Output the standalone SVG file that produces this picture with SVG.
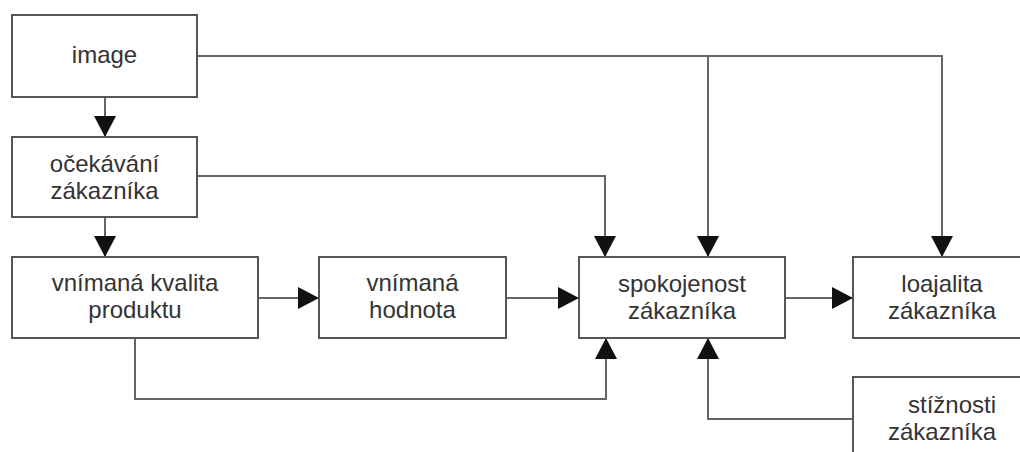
<svg xmlns="http://www.w3.org/2000/svg" width="1020" height="452" viewBox="0 0 1020 452">
<style>
.box{fill:#fff;stroke:#555;stroke-width:2}
.lbl{font-family:"Liberation Sans",Arial,sans-serif;font-size:24px;fill:#333;text-anchor:middle}
.con{fill:none;stroke:#666;stroke-width:2}
</style>
<defs>
<marker id="ah" markerUnits="userSpaceOnUse" markerWidth="22" markerHeight="22" refX="21" refY="11" orient="auto">
<path d="M0,0 L21,11 L0,22 z" fill="#111"/>
</marker>
</defs>
<rect width="1020" height="452" fill="#fff"/>
<g id="connectors">
<path class="con" d="M105,97 V137" marker-end="url(#ah)"/>
<path class="con" d="M105,217 V257" marker-end="url(#ah)"/>
<path class="con" d="M197,56 H942 V257" marker-end="url(#ah)"/>
<path class="con" d="M708,56 V257" marker-end="url(#ah)"/>
<path class="con" d="M197,176 H605 V257" marker-end="url(#ah)"/>
<path class="con" d="M258,298 H319" marker-end="url(#ah)"/>
<path class="con" d="M506,298 H579" marker-end="url(#ah)"/>
<path class="con" d="M785,298 H853" marker-end="url(#ah)"/>
<path class="con" d="M135,338 V399 H606 V338" marker-end="url(#ah)"/>
<path class="con" d="M853,419 H708 V338" marker-end="url(#ah)"/>
</g>
<g id="image">
<rect class="box" x="12" y="15" width="185" height="82"/>
<text class="lbl" x="104.5" y="63">image</text>
</g>
<g id="ocekavani">
<rect class="box" x="12" y="137" width="185" height="80"/>
<text class="lbl" x="104.5" y="172">očekávání</text>
<text class="lbl" x="104.5" y="199">zákazníka</text>
</g>
<g id="kvalita">
<rect class="box" x="12" y="257" width="246" height="81"/>
<text class="lbl" x="135" y="291">vnímaná kvalita</text>
<text class="lbl" x="135" y="318">produktu</text>
</g>
<g id="hodnota">
<rect class="box" x="319" y="257" width="187" height="81"/>
<text class="lbl" x="412.5" y="291">vnímaná</text>
<text class="lbl" x="412.5" y="318">hodnota</text>
</g>
<g id="spokojenost">
<rect class="box" x="579" y="257" width="206" height="81"/>
<text class="lbl" x="682" y="292">spokojenost</text>
<text class="lbl" x="682" y="319">zákazníka</text>
</g>
<g id="loajalita">
<rect class="box" x="853" y="257" width="180" height="81"/>
<text class="lbl" x="942" y="292">loajalita</text>
<text class="lbl" x="942" y="319">zákazníka</text>
</g>
<g id="stiznosti">
<rect class="box" x="853" y="377" width="180" height="90"/>
<text class="lbl" x="952" y="413">stížnosti</text>
<text class="lbl" x="942" y="440">zákazníka</text>
</g>
</svg>
